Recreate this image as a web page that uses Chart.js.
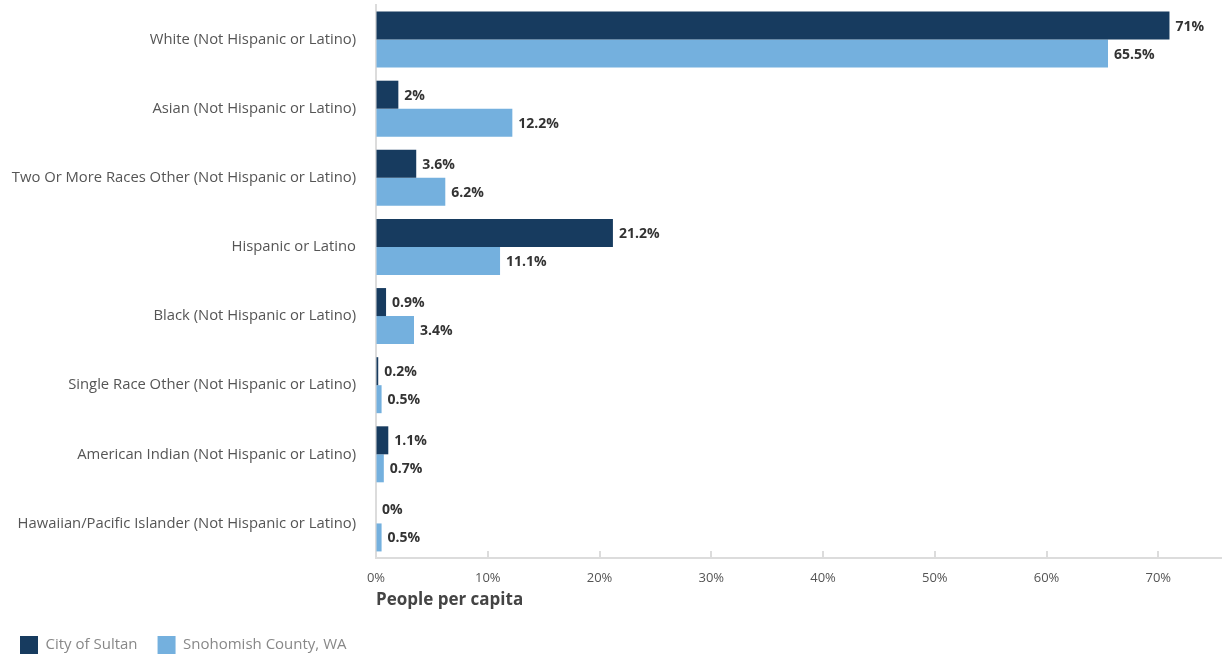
<!DOCTYPE html>
<html>
<head>
<meta charset="utf-8">
<script src="https://cdn.jsdelivr.net/npm/chart.js@4/dist/chart.umd.min.js"></script>
<style>
  html, body { margin: 0; padding: 0; background: #fff; }
  #wrap { width: 1222px; height: 660px; }
</style>
</head>
<body>
<div id="wrap"><canvas id="raceChart"></canvas></div>
<script>
var categories = [
  "White (Not Hispanic or Latino)",
  "Asian (Not Hispanic or Latino)",
  "Two Or More Races Other (Not Hispanic or Latino)",
  "Hispanic or Latino",
  "Black (Not Hispanic or Latino)",
  "Single Race Other (Not Hispanic or Latino)",
  "American Indian (Not Hispanic or Latino)",
  "Hawaiian/Pacific Islander (Not Hispanic or Latino)"
];
var sultan = [71, 2, 3.6, 21.2, 0.9, 0.2, 1.1, 0];
var snohomish = [65.5, 12.2, 6.2, 11.1, 3.4, 0.5, 0.7, 0.5];
var tickValues = [0, 10, 20, 30, 40, 50, 60, 70];

var FONT = "'Open Sans', sans-serif";

// value labels at the end of each bar
var barLabels = {
  id: 'barLabels',
  afterDatasetsDraw: function (chart) {
    var ctx = chart.ctx;
    ctx.save();
    ctx.font = "bold 14px " + FONT;
    ctx.fillStyle = '#333';
    ctx.textBaseline = 'middle';
    ctx.textAlign = 'left';
    chart.data.datasets.forEach(function (ds, i) {
      chart.getDatasetMeta(i).data.forEach(function (bar, j) {
        ctx.fillText(ds.data[j] + '%', bar.x + 6, bar.y + 1);
      });
    });
    ctx.restore();
  }
};

// short tick marks pointing up from the x axis line
var innerTicks = {
  id: 'innerTicks',
  afterDraw: function (chart) {
    var x = chart.scales.x;
    var ctx = chart.ctx;
    var bottom = chart.chartArea.bottom;
    ctx.save();
    ctx.strokeStyle = '#dcdcdc';
    ctx.lineWidth = 2;
    x.ticks.forEach(function (t) {
      if (t.value === 0) return;
      var px = Math.round(x.getPixelForValue(t.value));
      ctx.beginPath();
      ctx.moveTo(px, bottom);
      ctx.lineTo(px, bottom - 7);
      ctx.stroke();
    });
    ctx.restore();
  }
};

new Chart(document.getElementById('raceChart').getContext('2d'), {
  type: 'bar',
  data: {
    labels: categories,
    datasets: [{
      label: 'City of Sultan',
      data: sultan,
      backgroundColor: '#173b5f'
    }, {
      label: 'Snohomish County, WA',
      data: snohomish,
      backgroundColor: '#74b0de'
    }]
  },
  options: {
    indexAxis: 'y',
    responsive: true,
    maintainAspectRatio: false,
    animation: false,
    categoryPercentage: 0.81,
    barPercentage: 1,
    layout: { padding: { top: 5, right: 0, left: 0, bottom: -4 } },
    scales: {
      x: {
        min: 0,
        max: 75.7,
        afterBuildTicks: function (scale) {
          scale.ticks = tickValues.map(function (v) { return { value: v }; });
        },
        ticks: {
          callback: function (v) { return v + '%'; },
          color: '#555',
          font: { family: FONT, size: 13 },
          padding: 12,
          maxRotation: 0
        },
        grid: { drawOnChartArea: false, drawTicks: false },
        border: { color: '#dcdcdc', width: 2 },
        title: {
          display: true,
          text: 'People per capita',
          align: 'start',
          color: '#444',
          font: { family: FONT, size: 17, weight: 'bold' },
          padding: { top: -8, bottom: 6 }
        }
      },
      y: {
        afterFit: function (scale) {
          scale.width = 376;
          scale.paddingTop = 0;
          scale.paddingBottom = 0;
        },
        ticks: {
          color: '#555',
          font: { family: FONT, size: 14.8 },
          padding: 20
        },
        grid: { drawOnChartArea: false, drawTicks: false },
        border: { color: '#dcdcdc', width: 2 }
      }
    },
    plugins: {
      legend: {
        position: 'bottom',
        align: 'start',
        labels: {
          boxWidth: 18,
          boxHeight: 18,
          color: '#888',
          font: { family: FONT, size: 15 },
          padding: 20
        }
      },
      tooltip: { enabled: false }
    }
  },
  plugins: [barLabels, innerTicks]
});
</script>
</body>
</html>
